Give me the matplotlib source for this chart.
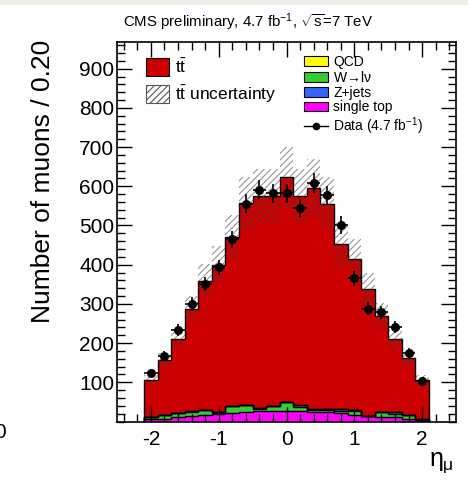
import numpy as np
import matplotlib
matplotlib.use('Agg')
from matplotlib import pyplot as plt
from matplotlib.patches import Patch, Rectangle
from matplotlib.lines import Line2D
from matplotlib.ticker import MultipleLocator

plt.rcParams['font.family'] = ['Liberation Sans', 'DejaVu Sans']
plt.rcParams['mathtext.fontset'] = 'custom'
plt.rcParams['mathtext.rm'] = 'Liberation Sans'
plt.rcParams['mathtext.it'] = 'Liberation Sans'
plt.rcParams['axes.unicode_minus'] = False
plt.rcParams['hatch.linewidth'] = 0.8

# bin edges in muon eta, 0.2 wide
edges = np.round(np.arange(-2.1, 2.1001, 0.2), 2)
centers = (edges[:-1] + edges[1:]) / 2

single_top = [5.6, 7, 12, 14, 17, 19, 22, 24, 28, 28, 28, 26, 24, 24, 21, 17, 14, 12, 11, 7, 4]
wjets = [6, 8.5, 9.5, 11.5, 11.5, 3.5, 17.5, 17.5, 5, 11, 21, 12, 6, 5, 7, 11, 0.5, 11, 8, 8.5, 1]
zjets = [0.5, 0.5, 0.5, 0.5, 0.5, 0.5, 0.5, 0.5, 1, 1, 1, 5, 1, 3, 4, 1, 0.5, 1, 5, 0.5, 1]
qcd = [0.3, 0.3, 0.3, 0.3, 0.3, 0.3, 0.3, 0.3, 0.3, 0.3, 0.3, 0.3, 0.3, 0.3, 0.3, 0.3, 0.3, 0.3, 0.3, 0.3, 0.3]
ttbar = [94, 140, 188, 260, 329, 376, 431, 514, 541, 535, 573, 532, 564, 523, 420, 385, 322, 246, 186, 145, 100]
ttbar_unc = [12, 18, 24, 34, 43, 49, 56, 67, 70, 70, 78, 69, 73, 68, 55, 50, 42, 32, 24, 19, 13]
data = [124, 167, 233, 299, 351, 393, 465, 556, 591, 582, 582, 545, 608, 577, 501, 365, 288, 279, 242, 174, 103]

RED = '#cc0000'
GREEN = '#33cc33'
BLUE = '#3366ff'
MAGENTA = '#ff00ff'
YELLOW = '#ffff00'

fig = plt.figure(figsize=(4.68, 4.83), dpi=100)
fig.patch.set_facecolor('white')
fig.add_artist(Rectangle((0, 1 - 5 / 483), 1, 5 / 483, transform=fig.transFigure,
                         facecolor='#efefe9', edgecolor='none'))
ax = fig.add_axes([117 / 468, 1 - 421.5 / 483, 339 / 468, 379.5 / 483])

layers = [single_top, wjets, zjets, qcd, ttbar]
colors = [MAGENTA, GREEN, BLUE, YELLOW, RED]
cum = np.cumsum(np.array(layers, dtype=float), axis=0)

# fill from the top layer downwards, then outline every layer
for level, col in zip(cum[::-1], colors[::-1]):
    ax.stairs(level, edges, baseline=0, fill=True, color=col, lw=0)
for level in cum:
    ax.stairs(level, edges, baseline=0, fill=False, color='black', lw=1.0)

total = cum[-1]
unc = np.array(ttbar_unc, dtype=float)
ax.bar(centers, 2 * unc, width=0.2, bottom=total - unc, fill=False,
       hatch='/////', edgecolor=(0.25, 0.25, 0.25, 0.55), lw=0)

ax.errorbar(centers, data, xerr=0.1, yerr=np.sqrt(data), fmt='o', color='black',
            ms=5.5, elinewidth=1.2, capsize=0)

ax.set_xlim(-2.5, 2.5)
ax.set_ylim(0, 968)
ax.xaxis.set_major_locator(MultipleLocator(1))
ax.xaxis.set_minor_locator(MultipleLocator(0.2))
ax.yaxis.set_major_locator(MultipleLocator(100))
ax.yaxis.set_minor_locator(MultipleLocator(20))
ax.set_yticks(np.arange(100, 901, 100))
ax.tick_params(which='both', direction='in', top=True, right=True, labelsize=15,
               colors='black', width=1)
ax.tick_params(which='major', length=11)
ax.tick_params(which='minor', length=6)
ax.tick_params(axis='x', which='major', pad=6)
ax.tick_params(axis='y', which='major', pad=2)
for s in ax.spines.values():
    s.set_linewidth(1.2)

fig.text(43 / 468, 1 - 40 / 483, 'Number of muons / 0.20', rotation=90,
         ha='center', va='top', fontsize=19)
fig.text(441 / 468, 1 - 463 / 483, r'$\eta_{\mu}$', ha='center', va='center', fontsize=18)
fig.text(123 / 468, 1 - 22 / 483, r'CMS preliminary, 4.7 fb$^{-1}$, $\sqrt{s}$=7 TeV',
         ha='left', va='center', fontsize=10.8)
fig.text(6 / 468, 1 - 432 / 483, '0', ha='right', va='center', fontsize=15)

h_left = [Patch(facecolor=RED, edgecolor='black', lw=0.8),
          Patch(facecolor='white', edgecolor='#555555', hatch='/////', lw=0.8)]
leg1 = ax.legend(h_left, [r'$\mathrm{t\bar{t}}$', r'$\mathrm{t\bar{t}}$ uncertainty'],
                 loc='upper left', bbox_to_anchor=(0.065, 0.977), frameon=False,
                 fontsize=12.5, handlelength=1.35, handleheight=1.25,
                 labelspacing=0.42, handletextpad=0.3, borderaxespad=0)
ax.add_artist(leg1)

h_right = [Patch(facecolor=YELLOW, edgecolor='black', lw=0.8),
           Patch(facecolor=GREEN, edgecolor='black', lw=0.8),
           Patch(facecolor=BLUE, edgecolor='black', lw=0.8),
           Patch(facecolor=MAGENTA, edgecolor='black', lw=0.8),
           Line2D([], [], color='black', marker='o', ms=4.5, lw=1)]
lab_right = ['QCD', r'W$\!\rightarrow\!$l$\nu$', 'Z+jets', 'single top',
             r'Data (4.7 fb$^{-1}$)']
ax.legend(h_right, lab_right, loc='upper left', bbox_to_anchor=(0.535, 0.98),
          frameon=False, fontsize=10, handlelength=1.7, handleheight=0.7,
          labelspacing=0.05, handletextpad=0.4, borderaxespad=0)

fig.savefig('out.png', dpi=100)
